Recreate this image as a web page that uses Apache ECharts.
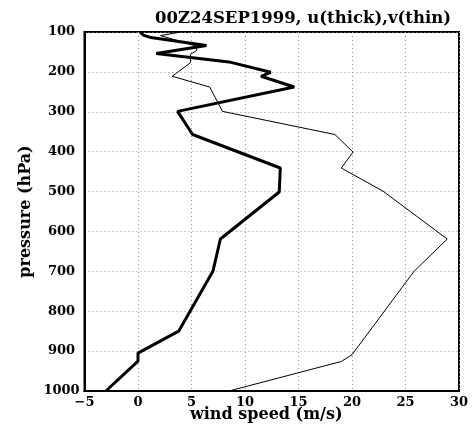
<!DOCTYPE html>
<html>
<head>
<meta charset="utf-8">
<script src="https://cdn.jsdelivr.net/npm/echarts@6/dist/echarts.min.js"></script>
<style>
  html, body { margin: 0; padding: 0; background: #fff; }
  #chart { width: 475px; height: 429px; }
</style>
</head>
<body>
<div id="chart"></div>
<script>
// u component (thick): [pressure hPa, speed m/s]
const uPressure = [100, 108, 114, 134, 154, 175, 201, 211, 238, 299, 357, 441, 501, 619, 700, 850, 905, 925, 1000];
const uSpeed    = [0.2, 0.5, 1.2, 6.4, 1.7, 8.5, 12.4, 11.5, 14.6, 3.7, 5.1, 13.3, 13.2, 7.7, 7.0, 3.8, 0.0, 0.0, -3.0];

// v component (thin)
const vPressure = [100, 109, 135, 146, 156, 177, 211, 238, 299, 357, 401, 441, 499, 619, 700, 909, 926, 1000];
const vSpeed    = [4.0, 2.1, 5.4, 5.5, 4.9, 4.9, 3.2, 6.7, 7.9, 18.4, 20.1, 19.0, 22.9, 28.9, 25.8, 20.0, 19.0, 8.5];

const titleText = "00Z24SEP1999, u(thick),v(thin)";
const xName = "wind speed (m/s)";
const yName = "pressure (hPa)";

const font = "'DejaVu Serif', 'Liberation Serif', serif";
const pair = (xs, ps) => xs.map((x, i) => [x, ps[i]]);

const chart = echarts.init(document.getElementById("chart"), undefined, { renderer: "canvas" });
const gridLine = { show: true, lineStyle: { color: "#999", width: 1, type: [1, 3] } };
const labelStyle = { fontFamily: font, fontWeight: "bold", fontSize: 13, color: "#000" };

chart.setOption({
  backgroundColor: "#fff",
  animation: false,
  title: {
    text: titleText,
    left: 298,
    textAlign: "center",
    top: 5,
    textStyle: { fontFamily: font, fontWeight: "bold", fontSize: 16.5, color: "#000" },
  },
  grid: {
    left: 84.5, right: 16, top: 32, bottom: 38,
    outerBoundsMode: "none",
    show: true, borderColor: "#000", borderWidth: 2, backgroundColor: "transparent",
  },
  xAxis: {
    type: "value",
    min: -5, max: 30, interval: 5,
    name: xName,
    nameLocation: "middle",
    nameGap: 16,
    nameMoveOverlap: false,
    nameTextStyle: { fontFamily: font, fontWeight: "bold", fontSize: 16, color: "#000", padding: [0, 11, 0, 0] },
    axisLine: { show: true, onZero: false, lineStyle: { color: "#000", width: 2 } },
    axisTick: { show: false },
    axisLabel: {
      ...labelStyle,
      margin: 5,
      formatter: (v) => String(v).replace("-", "\u2212"),
    },
    splitLine: gridLine,
  },
  yAxis: {
    type: "value",
    min: 100, max: 1000, interval: 100,
    inverse: true,
    name: yName,
    nameLocation: "middle",
    nameGap: 51,
    nameMoveOverlap: false,
    nameTextStyle: { fontFamily: font, fontWeight: "bold", fontSize: 16, color: "#000" },
    axisLine: { show: true, onZero: false, lineStyle: { color: "#000", width: 2 } },
    axisTick: { show: false },
    axisLabel: {
      ...labelStyle,
      margin: 23,
      align: "center",
      formatter: (v) => String(v),
    },
    splitLine: gridLine,
  },
  series: [
    {
      name: "u",
      type: "line",
      data: pair(uSpeed, uPressure),
      symbol: "none",
      lineStyle: { color: "#000", width: 3 },
      z: 3,
    },
    {
      name: "v",
      type: "line",
      data: pair(vSpeed, vPressure),
      symbol: "none",
      lineStyle: { color: "#000", width: 1 },
      z: 2,
    },
  ],
});
</script>
</body>
</html>
